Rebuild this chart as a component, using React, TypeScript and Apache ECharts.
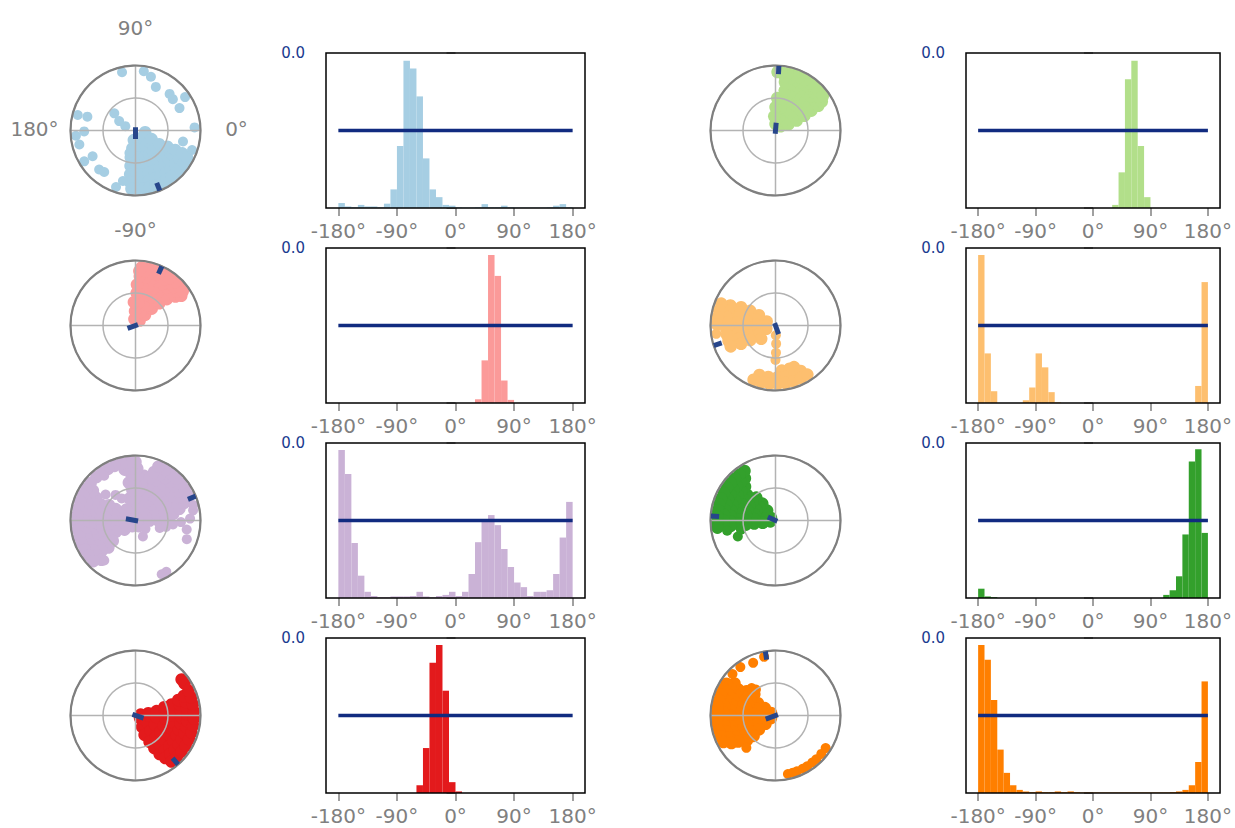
import React, { useEffect, useRef } from 'react';
import * as echarts from 'echarts';

// ---------- data ----------
const COLORS = ['#a6cee3', '#b2df8a', '#fb9a99', '#fdbf6f', '#cab2d6', '#33a02c', '#e31a1c', '#ff7f00'];

const BIN_EDGES = [-180, -170, -160, -150, -140, -130, -120, -110, -100, -90, -80, -70, -60, -50, -40, -30, -20, -10,
  0, 10, 20, 30, 40, 50, 60, 70, 80, 90, 100, 110, 120, 130, 140, 150, 160, 170, 180];

const HIST_1 = [3.2, 1, 0.5, 2, 1, 1, 0.5, 2.8, 12, 40, 95, 90, 72, 32, 12, 7, 2, 1.5, 0.5, 0.3, 0.3, 0.5, 2.5, 0.5, 0.5, 1.5, 0.5, 0.3, 0.3, 0.3, 0.3, 0.3, 0.5, 1.5, 2.5, 0.5];
const HIST_2 = [0, 0, 0, 0, 0, 0, 0, 0, 0, 0, 0, 0, 0, 0, 0, 0, 0, 0, 0, 0, 0, 2, 23, 83, 95, 40, 7, 0, 0, 0, 0, 0, 0, 0, 0, 0];
const HIST_3 = [0, 0, 0, 0, 0, 0, 0, 0, 0, 0, 0, 0, 0, 0, 0, 0, 0, 0, 0, 0, 0, 2.4, 27.5, 95.5, 82, 14.5, 2, 0, 0, 0, 0, 0, 0, 0, 0, 0];
const HIST_4 = [95.5, 32, 7.6, 0, 0, 0, 0, 1.7, 10, 32, 23, 7, 0.4, 0, 0, 0, 0, 0, 0, 0, 0, 0, 0, 0, 0, 0, 0, 0, 0, 0, 0, 0, 0, 0, 11, 78];
const HIST_5 = [95.5, 80, 35.5, 14.4, 4, 1.3, 0.5, 0.5, 1, 1, 1, 1.3, 4, 1, 0.5, 1.3, 2, 4, 1.3, 4, 15.5, 36, 50, 53.5, 47, 31.6, 20, 10, 7, 1.3, 4, 4, 5, 15.5, 39, 62];
const HIST_6 = [6, 1, 0.5, 0, 0, 0, 0, 0, 0, 0, 0, 0, 0, 0, 0, 0, 0, 0, 0, 0, 0, 0, 0, 0, 0, 0, 0, 0, 0, 2, 5, 14, 41, 88, 96, 42];
const HIST_7 = [0, 0, 0, 0, 0, 0, 0, 0, 0, 0, 0, 0, 5, 29, 84, 95.5, 66, 7, 1, 0, 0, 0, 0, 0, 0, 0, 0, 0, 0, 0, 0, 0, 0, 0, 0, 0];
const HIST_8 = [95.5, 86, 60, 28, 13, 5, 2, 1, 0.5, 1, 0.5, 0.5, 1, 0.5, 1, 0.5, 0.3, 0.3, 0.3, 0.3, 0.3, 0.3, 0.3, 0.3, 0.3, 0.3, 0.3, 0.3, 0.3, 0.3, 0.5, 1, 2, 5, 20, 72];

const HIST_LEVEL = 50;
const HIST_LEVEL_X = [-180, 180];
const TICK_VALUES = [-180, -90, 0, 90, 180];
const TICK_LABELS = ['-180°', '-90°', '0°', '90°', '180°'];
const Y_TICKS = [0, 50, 100];
const Y_LABEL_VALUE = 100;
const Y_LABEL = '0.0';
const ANGLE_TICKS = [0, 90, 180, -90];
const ANGLE_TICK_LABELS = ['0°', '90°', '180°', '-90°'];

// polar scatter: rings of [radius, angles[]] (dense blobs) plus loose dots [radius, angle]
const P1_RINGS: [number, number[]][] = [
  [0.15, [-100, -70, -40, -10]],
  [0.28, [-100, -85, -70, -55, -40, -28]],
  [0.42, [-100, -90, -80, -70, -60, -50, -40, -30]],
  [0.55, [-98, -89, -80, -71, -62, -53, -44, -35, -27]],
  [0.68, [-97, -89, -81, -73, -65, -57, -49, -41, -33, -26]],
  [0.8, [-96, -89, -82, -75, -68, -61, -54, -47, -40, -33, -26]],
  [0.9, [-94, -88, -82, -76, -70, -64, -58, -52, -46, -40, -34, -28]],
];
const P1_DOTS: [number, number][] = [[0.92, 103], [0.92, 82], [0.86, 74], [0.74, 65], [0.77, 47], [0.75, 40], [0.76, 27], [0.92, 34],
  [0.92, 165], [0.77, 164], [0.79, -179], [0.92, -175], [0.89, -166], [0.77, -149], [0.92, -149], [0.82, -133], [0.8, -127],
  [0.92, -109], [0.8, -104], [0.42, 141], [0.29, 150], [0.17, 157], [0.91, 3], [0.75, -13], [0.92, -19], [0.36, -105]];

const P2_RINGS: [number, number[]][] = [
  [0.1, [40, 90]],
  [0.22, [25, 50, 75, 95]],
  [0.36, [25, 38, 51, 64, 77, 90]],
  [0.5, [27, 37, 47, 57, 67, 77, 87]],
  [0.63, [29, 37, 45, 53, 61, 69, 77]],
  [0.76, [30, 37, 44, 51, 58, 65, 72, 79]],
  [0.84, [32, 38, 44, 50, 56, 62, 68, 74, 80]],
  [0.9, [36, 42, 48, 54, 60, 66, 72, 78, 84, 88]],
];
const P2_DOTS: [number, number][] = [];

const P3_RINGS: [number, number[]][] = [
  [0.1, [50, 100]],
  [0.22, [48, 70, 92]],
  [0.36, [46, 58, 70, 82, 94]],
  [0.5, [43, 52, 61, 70, 79, 88]],
  [0.63, [40, 48, 56, 64, 72, 80, 88]],
  [0.76, [36, 43, 50, 57, 64, 71, 78, 85]],
  [0.84, [33, 39, 45, 51, 57, 63, 69, 75, 81, 86]],
  [0.9, [36, 42, 48, 54, 60, 66, 72, 78, 84]],
];
const P3_DOTS: [number, number][] = [];

const P4_RINGS: [number, number[]][] = [
  [0.15, [155, 180, -160]],
  [0.3, [148, 163, 178, -167, -152, -137]],
  [0.45, [150, 160, 170, 180, -170, -160, -150]],
  [0.6, [152, 160, 168, 176, -176, -168, -160, -152]],
  [0.76, [156, 163, 170, 177, -176, -169, -162, -155]],
  [0.9, [158, 165, 172, 179]],
  [0.7, [-82, -72, -66]],
  [0.8, [-108, -98, -88, -78, -68, -61]],
  [0.9, [-112, -104, -96, -88, -80, -72, -64, -57]],
];
const P4_DOTS: [number, number][] = [[0.92, -172], [0.15, -88], [0.28, -88], [0.42, -89], [0.53, -90]];

const P5_RINGS: [number, number[]][] = [
  [0.1, [0, 60, 120, 180, -120, -60]],
  [0.22, [0, 25, 50, 75, 100, 130, 160, -170, -140]],
  [0.35, [0, 15, 30, 45, 60, 75, 90, 105, 150, 165, 180, -165, -150]],
  [0.47, [5, 18, 31, 44, 57, 70, 83, 96, 150, 162, 174, -174, -162, -150, -138]],
  [0.59, [10, 20, 30, 40, 50, 60, 70, 80, 90, 100, 155, 165, 175, -175, -165, -155, -145, -135]],
  [0.7, [15, 23, 31, 39, 47, 55, 63, 71, 79, 87, 95, 150, 158, 166, 174, -178, -170, -162, -154, -146, -138]],
  [0.8, [20, 27, 34, 41, 48, 55, 62, 69, 88, 95, 102, 145, 152, 159, 166, 173, 180, -173, -166, -159, -152, -145, -138, -131]],
  [0.9, [25, 32, 39, 46, 53, 60, 67, 90, 97, 104, 111, 118, 125, 132, 140, 147, 154, 161, 168, 175, -178, -171, -164, -157, -150, -143, -136]],
];
const P5_DOTS: [number, number][] = [[0.8, -10], [0.84, 2], [0.84, -20], [0.58, -6], [0.39, -17], [0.27, -65], [0.2, -40], [0.92, -59],
  [0.92, -64], [0.78, -128], [0.61, 139], [0.84, 125], [0.4, 122], [0.5, 128], [0.9, 10], [0.92, 15], [0.7, -2], [0.48, -12]];

const P6_RINGS: [number, number[]][] = [
  [0.08, [150, -170]],
  [0.2, [130, 150, 170, -170]],
  [0.33, [128, 140, 152, 164, 176, -172]],
  [0.46, [130, 140, 150, 160, 170, 180, -172]],
  [0.58, [138, 146, 154, 162, 170, 178, -175]],
  [0.7, [132, 139, 146, 153, 160, 167, 174, -179, -173]],
  [0.8, [126, 132, 138, 144, 150, 156, 162, 168, 174, 180, -175]],
  [0.9, [122, 128, 134, 140, 146, 152, 158, 164, 170, 176, -178, -173]],
];
const P6_DOTS: [number, number][] = [[0.76, -168], [0.63, -157], [0.55, -165]];

const P7_RINGS: [number, number[]][] = [
  [0.08, [-30, 10]],
  [0.2, [-60, -30, 0, 10]],
  [0.33, [-65, -45, -25, -5, 12]],
  [0.46, [-62, -48, -34, -20, -6, 8, 16]],
  [0.58, [-60, -50, -40, -30, -20, -10, 0, 10, 17]],
  [0.7, [-58, -50, -42, -34, -26, -18, -10, -2, 6, 14, 20]],
  [0.8, [-55, -48, -41, -34, -27, -20, -13, -6, 1, 8, 15, 22]],
  [0.9, [-52, -45, -38, -31, -24, -17, -10, -3, 4, 11, 18, 25, 33, 38]],
];
const P7_DOTS: [number, number][] = [];

const P8_RINGS: [number, number[]][] = [
  [0.08, [150, 180, -150]],
  [0.2, [145, 170, -165, -140]],
  [0.33, [145, 160, 175, -170, -155, -140]],
  [0.46, [135, 146, 157, 168, 179, -170, -159, -148, -137]],
  [0.58, [140, 149, 158, 167, 176, -175, -166, -157, -148, -139]],
  [0.7, [145, 152, 159, 166, 173, -180, -173, -166, -159, -152, -145]],
  [0.8, [142, 149, 156, 163, 170, 177, -176, -169, -162, -155, -148]],
  [0.9, [147, 153, 159, 165, 171, 177, -177, -171, -165, -159, -153]],
];
const P8_DOTS: [number, number][] = [[0.92, 136], [0.92, 126], [0.88, 113], [0.92, 101], [0.67, -132], [0.56, 131], [0.5, 127],
  [0.92, -78], [0.92, -73], [0.92, -69], [0.92, -63], [0.92, -58], [0.92, -52], [0.92, -47], [0.92, -40], [0.92, -33]];

// mean-direction markers: centre segment [[r, angle], [r, angle]], edge segment angle
const CENTER_MARKS: [number, number][][] = [
  [[0.05, 90], [0.13, -90]],
  [[0.12, 85], [0.05, -95]],
  [[0.13, -160], [0.04, 20]],
  [[0.04, 110], [0.14, -70]],
  [[0.15, 170], [0.04, -10]],
  [[0.13, 155], [0.03, -25]],
  [[0.05, 162], [0.13, -18]],
  [[0.16, -160], [0.04, 20]],
];
const EDGE_MARK_ANGLES = [-68, 87, 66, -162, 22, 176, -49, 99];
const EDGE_MARK_R = [0.87, 1.0];

const HISTS = [HIST_1, HIST_2, HIST_3, HIST_4, HIST_5, HIST_6, HIST_7, HIST_8];
const RINGS = [P1_RINGS, P2_RINGS, P3_RINGS, P4_RINGS, P5_RINGS, P6_RINGS, P7_RINGS, P8_RINGS];
const DOTS = [P1_DOTS, P2_DOTS, P3_DOTS, P4_DOTS, P5_DOTS, P6_DOTS, P7_DOTS, P8_DOTS];

// ---------- layout ----------
const ROW_CY = [130.5, 325.5, 520.5, 715.5];
const POLAR_CX = [135.5, 775.5];
const POLAR_R = 65;
const GRID_LEFT = [326, 966];
const GRID_W = 259;
const GRID_H = 155;
const FONT = 'DejaVu Sans, sans-serif';
const MARK_COLOR = '#27468b';

function buildOption() {
  const polar: any[] = [];
  const angleAxis: any[] = [];
  const radiusAxis: any[] = [];
  const grid: any[] = [];
  const xAxis: any[] = [];
  const yAxis: any[] = [];
  const series: any[] = [];
  const graphic: any[] = [];

  HISTS.forEach((hist, i) => {
    const row = Math.floor(i / 2);
    const col = i % 2;
    const cy = ROW_CY[row];
    const color = COLORS[i];

    polar.push({ center: [POLAR_CX[col], cy], radius: POLAR_R });
    angleAxis.push({
      polarIndex: i, type: 'value', min: -180, max: 180, interval: 90, startAngle: 180, clockwise: false, z: 5,
      axisLine: { show: true, lineStyle: { color: '#7f7f7f', width: 2.2 } },
      axisTick: { show: false }, axisLabel: { show: false },
      splitLine: { show: true, lineStyle: { color: '#b3b3b3', width: 1.5 } },
    });
    radiusAxis.push({
      polarIndex: i, type: 'value', min: 0, max: 1, interval: 0.5, z: 4,
      axisLine: { show: false }, axisTick: { show: false }, axisLabel: { show: false },
      splitLine: { show: true, lineStyle: { color: '#b3b3b3', width: 1.5 } },
    });

    const blob: [number, number][] = [];
    RINGS[i].forEach(([r, angs]) => angs.forEach((a) => blob.push([r, a])));
    series.push({
      type: 'scatter', coordinateSystem: 'polar', polarIndex: i, data: blob, symbolSize: 12.5,
      itemStyle: { color, opacity: 1 }, z: 2, silent: true,
    });
    series.push({
      type: 'scatter', coordinateSystem: 'polar', polarIndex: i, data: DOTS[i], symbolSize: 10,
      itemStyle: { color, opacity: 1 }, z: 2, silent: true,
    });
    series.push({
      type: 'line', coordinateSystem: 'polar', polarIndex: i, data: CENTER_MARKS[i], symbol: 'none', clip: false,
      lineStyle: { color: MARK_COLOR, width: 5, cap: 'butt' }, z: 10, silent: true,
    });
    series.push({
      type: 'line', coordinateSystem: 'polar', polarIndex: i,
      data: EDGE_MARK_R.map((r) => [r, EDGE_MARK_ANGLES[i]]), symbol: 'none', clip: false,
      lineStyle: { color: MARK_COLOR, width: 5, cap: 'butt' }, z: 10, silent: true,
    });

    grid.push({
      left: GRID_LEFT[col], top: cy - GRID_H / 2, width: GRID_W, height: GRID_H,
      show: true, borderColor: '#000', borderWidth: 1.5, backgroundColor: 'transparent', z: 3,
    });
    xAxis.push({
      gridIndex: i, type: 'value', min: -199, max: 199,
      axisLine: { show: false },
      axisTick: { show: true, customValues: TICK_VALUES, length: 8, lineStyle: { color: '#808080', width: 1.5 } },
      axisLabel: {
        customValues: TICK_VALUES, formatter: (v: number) => TICK_LABELS[TICK_VALUES.indexOf(v)],
        color: '#808080', fontSize: 20, lineHeight: 20, fontFamily: FONT, margin: 13,
      },
      splitLine: { show: false },
    });
    yAxis.push({
      gridIndex: i, type: 'value', min: 0, max: 100,
      axisLine: { show: false },
      axisTick: { show: true, customValues: Y_TICKS, length: 9, lineStyle: { color: '#808080', width: 1.5 } },
      axisLabel: {
        customValues: [Y_LABEL_VALUE], formatter: () => Y_LABEL,
        color: '#1a3a8f', fontSize: 15, fontFamily: FONT, margin: 21,
      },
      splitLine: { show: false },
    });
    series.push({
      type: 'custom', xAxisIndex: i, yAxisIndex: i, silent: true, z: 2,
      data: hist.map((h, k) => [BIN_EDGES[k], BIN_EDGES[k + 1], h]),
      encode: { x: [0, 1], y: 2 },
      renderItem: (params: any, api: any) => {
        const p0 = api.coord([api.value(0), api.value(2)]);
        const p1 = api.coord([api.value(1), 0]);
        return {
          type: 'rect',
          shape: { x: p0[0], y: p0[1], width: p1[0] - p0[0], height: p1[1] - p0[1] },
          style: { fill: color },
        };
      },
    });
    series.push({
      type: 'line', xAxisIndex: i, yAxisIndex: i, data: HIST_LEVEL_X.map((x) => [x, HIST_LEVEL]),
      symbol: 'none', lineStyle: { color: '#112b80', width: 3.5 }, z: 4, silent: true,
    });
  });

  ANGLE_TICKS.forEach((a, k) => {
    const rad = (a * Math.PI) / 180;
    graphic.push({
      type: 'text', x: POLAR_CX[0] + 101 * Math.cos(rad), y: ROW_CY[0] - 101 * Math.sin(rad) - 2,
      style: { text: ANGLE_TICK_LABELS[k], fill: '#808080', fontSize: 20, fontFamily: FONT, align: 'center', verticalAlign: 'middle' },
    });
  });

  return {
    animation: false,
    backgroundColor: '#fff',
    polar, angleAxis, radiusAxis, grid, xAxis, yAxis, series, graphic,
  };
}

export default function App() {
  const ref = useRef<HTMLDivElement>(null);
  useEffect(() => {
    if (!ref.current) return;
    const chart = echarts.init(ref.current, undefined, { renderer: 'svg' });
    chart.setOption(buildOption() as any);
    return () => chart.dispose();
  }, []);
  return <div ref={ref} style={{ position: 'absolute', left: 0, top: 0, width: 1235, height: 828 }} />;
}
